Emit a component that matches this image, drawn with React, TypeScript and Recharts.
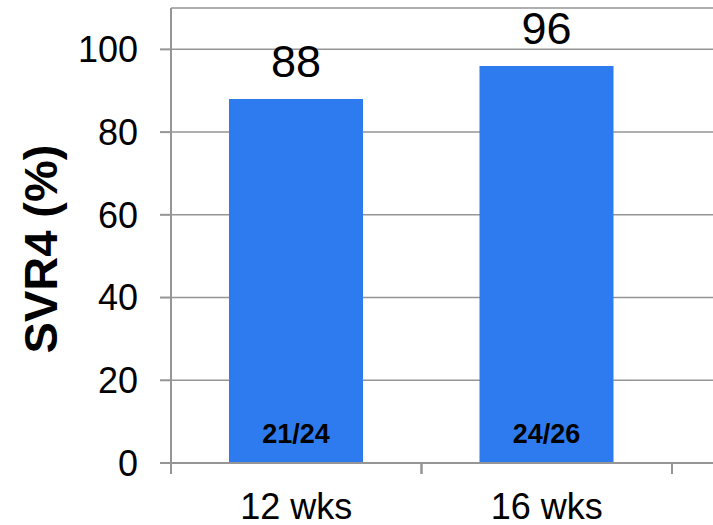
import React from "react";
import {
  BarChart,
  Bar,
  XAxis,
  YAxis,
  CartesianGrid,
  LabelList,
  Label,
} from "recharts";

const durations = ["12 wks", "16 wks"];
const svrRates = [88, 96];
const responders = ["21/24", "24/26"];
const yTicks = [0, 20, 40, 60, 80, 100];

const data = durations.map((name, i) => ({
  name,
  svr: svrRates[i],
  fraction: responders[i],
}));

const FONT = "'Liberation Sans', Arial, Helvetica, sans-serif";
const AXIS_GRAY = "#959595";
const BAR_BLUE = "#2e7bef";

// category label plus boundary tick marks on each side of the band
function DurationTick(props: any) {
  const { x, y, payload } = props;
  const half = payload?.offset || 125;
  return (
    <g>
      <line x1={x - half} y1={y} x2={x - half} y2={y + 11} stroke={AXIS_GRAY} strokeWidth={2} />
      <line x1={x + half} y1={y} x2={x + half} y2={y + 11} stroke={AXIS_GRAY} strokeWidth={2} />
      <text x={x} y={y + 56} textAnchor="middle" fontSize={36} fontFamily={FONT} fill="#000">
        {payload.value}
      </text>
    </g>
  );
}

// n/N shown near the foot of each bar
function FractionLabel(props: any) {
  const { x, y, width, height, value } = props;
  return (
    <text
      x={x + width / 2}
      y={y + height - 20}
      textAnchor="middle"
      fontSize={27}
      fontWeight="bold"
      fontFamily={FONT}
      fill="#000"
    >
      {value}
    </text>
  );
}

function YTitle(props: any) {
  const { viewBox } = props;
  const cx = viewBox.x + 57;
  const cy = 249;
  return (
    <text
      x={cx}
      y={cy}
      transform={`rotate(-90 ${cx} ${cy})`}
      textAnchor="middle"
      fontSize={47}
      fontWeight="bold"
      fontFamily={FONT}
      fill="#000"
    >
      SVR4 (%)
    </text>
  );
}

export default function App() {
  return (
    <div style={{ position: "absolute", left: 0, top: 0, background: "#fff" }}>
      <BarChart
        width={713}
        height={525}
        data={data}
        margin={{ top: 8, right: 0, left: 0, bottom: 0 }}
        barSize={134}
      >
        <CartesianGrid vertical={false} stroke={AXIS_GRAY} strokeWidth={1.5} />
        <XAxis
          dataKey="name"
          height={62}
          padding={{ left: 0, right: 41 }}
          axisLine={{ stroke: AXIS_GRAY, strokeWidth: 2 }}
          tickLine={false}
          tickSize={0}
          tickMargin={0}
          tick={<DurationTick />}
          interval={0}
        />
        <YAxis
          width={171}
          domain={[0, 110]}
          ticks={yTicks}
          allowDataOverflow
          axisLine={{ stroke: AXIS_GRAY, strokeWidth: 2 }}
          tickLine={{ stroke: AXIS_GRAY, strokeWidth: 2 }}
          tickSize={11}
          tickMargin={22}
          tick={{ fontSize: 36, fontFamily: FONT, fill: "#000" }}
        >
          <Label content={<YTitle />} />
        </YAxis>
        <Bar dataKey="svr" fill={BAR_BLUE} isAnimationActive={false}>
          <LabelList
            dataKey="svr"
            position="top"
            offset={22}
            style={{ fontSize: 45, fontFamily: FONT, fill: "#000" }}
          />
          <LabelList dataKey="fraction" content={<FractionLabel />} />
        </Bar>
      </BarChart>
    </div>
  );
}
